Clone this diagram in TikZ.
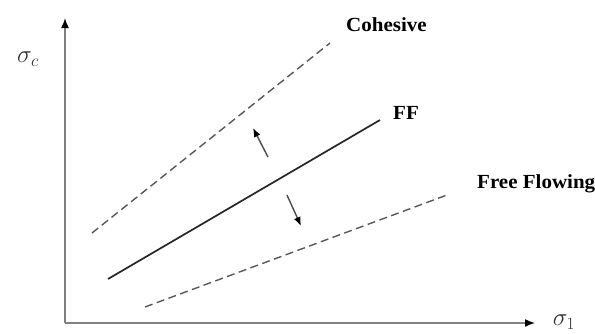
\documentclass[tikz,border=0pt]{standalone}
\usepackage{fontspec}
\setmainfont{Liberation Serif}
\usetikzlibrary{arrows.meta}
\begin{document}
\begin{tikzpicture}[x=1pt,y=-1pt,
  axis/.style={draw=black!50,line width=1.5pt,-{Latex[length=10pt,width=8pt,black]}},
  dashline/.style={draw=black!65,line width=1.4pt,dash pattern=on 8pt off 4.5pt},
  ffline/.style={draw=black!85,line width=1.7pt},
  small/.style={draw=black!70,line width=1.4pt,-{Latex[length=9pt,width=7pt,black]}},
  lbl/.style={font=\fontsize{20}{22}\selectfont\bfseries,inner sep=0pt,xscale=1.05},
  sym/.style={font=\fontsize{27}{30}\selectfont,inner sep=0pt,text=black!80}]
\useasboundingbox (0,0) rectangle (595,333);
\fill[white] (0,0) rectangle (595,333);
\coordinate (O) at (65,323);
\coordinate (Ytop) at (65,18);
\coordinate (Xend) at (535,323);
\draw[axis] (O) -- (Ytop);
\draw[axis] (O) -- (Xend);
\node[sym] (sc) at (28,59) {$\sigma_c$};
\node[sym] (s1) at (564,322) {$\sigma_1$};
\coordinate (c1) at (92,233);
\coordinate (c2) at (330,43);
\draw[dashline] (c1) -- (c2);
\node[lbl,anchor=west] (coh) at (346,25) {Cohesive};
\coordinate (f1) at (108,279);
\coordinate (f2) at (380,120);
\draw[ffline] (f1) -- (f2);
\node[lbl,anchor=west] (ff) at (393,113) {FF};
\coordinate (g1) at (145,307);
\coordinate (g2) at (447,195);
\draw[dashline] (g1) -- (g2);
\node[lbl,anchor=west] (fr) at (477,184) {Free Flowing};
\coordinate (a1) at (268,157);
\coordinate (a2) at (253,128);
\draw[small] (a1) -- (a2);
\coordinate (b1) at (287,195);
\coordinate (b2) at (301,226);
\draw[small] (b1) -- (b2);
\end{tikzpicture}
\end{document}
